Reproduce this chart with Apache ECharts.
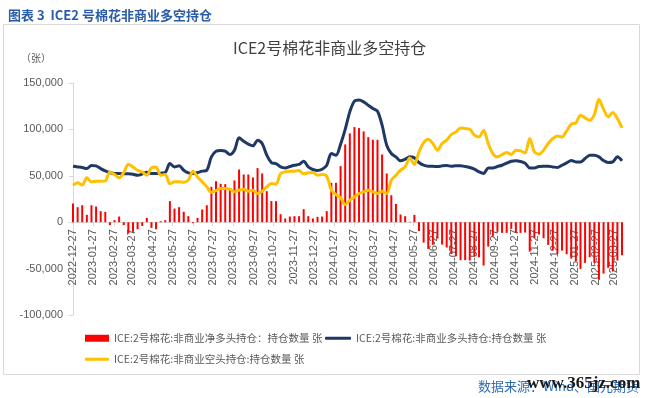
<!DOCTYPE html>
<html>
<head>
<meta charset="utf-8">
<title>ICE2号棉花非商业多空持仓</title>
<script src="https://cdn.jsdelivr.net/npm/echarts@6.0.0/dist/echarts.min.js"></script>
<style>
  html, body { margin: 0; padding: 0; background: #fff; }
  #chart { width: 649px; height: 398px; }
</style>
</head>
<body>
<div id="chart"></div>
<script>
// 周度数据，起始 2022-12-27，每 7 天一个点（单位：张）
var startDate = '2022-12-27';
var weekStep = 7;

var netLong = [
  20100, 16200, 18300, 7900, 18300, 16900, 11900, 11200, -3200, 2200,
  6100, -3200, -12200, -10400, -7600, -4000, 4700, -6100, -7600, 1100,
  2200, 22700, 14700, 16200, 11200, 6500, -1000, 4700, 13700, 18300,
  38100, 44200, 41400, 41000, 34900, 45000, 56800, 51400, 51400, 48200,
  58300, 52500, 33500, 22700, 22700, 8600, 4000, 6100, 6500, 6500,
  14000, 6500, 4000, 5800, 6100, 11900, 42400, 42400, 60400, 83800,
  95700, 102500, 101400, 97800, 91700, 88800, 88800, 73000, 52500, 29100,
  19800, 8300, 6500, 500, 7900, -9500, -22000, -28800, -24300, -17600,
  -24100, -27300, -34300, -36600, -40900, -40900, -41300, -36700, -37800, -46700,
  -26300, -15500, -10400, -11500, -11500, -7200, -11500, -11500, -11100, -31700,
  -17300, -13300, -17300, -24500, -30600, -34100, -30500, -34500, -39200, -42000,
  -50300, -43800, -37700, -43800, -62100, -55400, -49200, -53200, -41300, -35500
];

var longPos = [
  60300, 59600, 58900, 57800, 61100, 60700, 57800, 55300, 53500, 52400,
  52400, 52100, 52100, 51700, 50600, 51900, 53900, 52400, 52400, 52800,
  53500, 63200, 59600, 60700, 56000, 53200, 52400, 53500, 55000, 56000,
  70400, 76500, 77200, 76500, 72900, 77600, 90900, 87300, 84100, 82300,
  88400, 84800, 72200, 64300, 63200, 59600, 58500, 60000, 61400, 62200,
  65700, 59600, 56800, 55700, 57100, 61400, 74000, 72200, 84000, 100000,
  118900, 130400, 131800, 129700, 126100, 122500, 119600, 104500, 83000, 74000,
  70400, 66100, 67900, 70400, 69300, 64300, 61400, 60300, 60300, 60000,
  60700, 61100, 60300, 60700, 60700, 60000, 58900, 57100, 54200, 52400,
  58500, 58500, 60000, 61400, 63600, 65700, 66100, 65400, 63600, 58500,
  58500, 60000, 60300, 60300, 59600, 58900, 61400, 63900, 66400, 65000,
  65000, 68600, 72200, 72200, 70400, 66400, 64300, 65000, 70400, 66100
];

var shortPos = [
  39900, 42400, 40000, 47800, 43500, 44200, 44200, 44500, 54200, 51400,
  47800, 53500, 62500, 59600, 56000, 54200, 50600, 58500, 59600, 50600,
  51400, 41300, 43500, 43500, 43000, 45300, 55000, 48800, 43500, 38100,
  32000, 34100, 36300, 36300, 35600, 32700, 34500, 35600, 33400, 34500,
  30900, 33400, 38100, 41700, 41000, 52400, 54200, 55000, 55000, 55700,
  52100, 53200, 53500, 50600, 51400, 49600, 34500, 29800, 26200, 19000,
  23700, 27300, 30900, 32700, 34500, 32700, 30900, 33400, 30900, 45300,
  50600, 56000, 59600, 69300, 62200, 75800, 85800, 89400, 84800, 77600,
  84800, 88400, 94500, 97300, 101600, 100900, 100200, 93800, 91900, 99100,
  84800, 74000, 70400, 72900, 75100, 72900, 77600, 76900, 74700, 90200,
  75800, 73300, 77600, 84800, 90200, 93000, 91900, 98400, 105600, 107000,
  115300, 112400, 109900, 116000, 132500, 121800, 113500, 118200, 111700, 101600
];

var tickLabels = [
  '2022-12-27', '2023-01-27', '2023-02-27', '2023-03-27', '2023-04-27', '2023-05-27',
  '2023-06-27', '2023-07-27', '2023-08-27', '2023-09-27', '2023-10-27', '2023-11-27',
  '2023-12-27', '2024-01-27', '2024-02-27', '2024-03-27', '2024-04-27', '2024-05-27',
  '2024-06-27', '2024-07-27', '2024-08-27', '2024-09-27', '2024-10-27', '2024-11-27',
  '2024-12-27', '2025-01-27', '2025-02-27', '2025-03-27'
];

var seriesNames = [
  'ICE:2号棉花:非商业净多头持仓：持仓数量 张',
  'ICE:2号棉花:非商业多头持仓:持仓数量 张',
  'ICE:2号棉花:非商业空头持仓:持仓数量 张'
];

// 按日建类目轴，周度数据放到对应日期上
function addDays(s, n) {
  var d = new Date(s + 'T00:00:00Z');
  d.setUTCDate(d.getUTCDate() + n);
  return d.toISOString().slice(0, 10);
}
var dayCount = (netLong.length - 1) * weekStep + 1;
var days = [];
for (var i = 0; i < dayCount; i++) days.push(addDays(startDate, i));

function spread(values) {
  var out = [];
  for (var i = 0; i < dayCount; i++) out.push(null);
  for (var k = 0; k < values.length; k++) out[k * weekStep] = values[k];
  return out;
}

var tickSet = {};
tickLabels.forEach(function (t) { tickSet[t] = true; });
var showTick = function (idx, val) { return !!tickSet[val]; };

var chart = echarts.init(document.getElementById('chart'));

var axisGray = '#d9d9d9';
var textGray = '#595959';
var cjk = '"Noto Sans CJK SC", sans-serif';
var latin = '"Liberation Sans", "Noto Sans CJK SC", sans-serif';

var yMin = -100000, yMax = 150000;
var gridTop = 83, gridBottom = 83, chartH = 398;
// x 轴放在 0 值处（标签跟着轴走）
var plotH = chartH - gridTop - gridBottom;
var zeroOffset = -plotH * (0 - yMin) / (yMax - yMin);

var legendText = { color: textGray, fontSize: 10.5, fontFamily: cjk };

var option = {
  animation: false,
  backgroundColor: '#fff',
  title: [
    {
      text: '图表 3  ICE2 号棉花非商业多空持仓',
      left: 3, top: 4,
      textStyle: { color: '#2a5ca8', fontSize: 13, fontWeight: 'bold', fontFamily: cjk }
    },
    {
      text: 'ICE2号棉花非商业多空持仓',
      left: 228, top: 35,
      textStyle: { color: '#404040', fontSize: 16, fontWeight: 'normal', fontFamily: cjk }
    }
  ],
  graphic: [
    {
      type: 'rect', silent: true, z: -10,
      shape: { x: 3.5, y: 24.5, width: 636, height: 350 },
      style: { fill: 'none', stroke: axisGray, lineWidth: 1 }
    },
    {
      type: 'text', left: 478, top: 380,
      style: { text: '数据来源：Wind、国元期货', fill: '#2e6db4', fontSize: 13, fontFamily: cjk }
    },
    {
      type: 'text', left: 527, top: 375, z: 100,
      style: { text: 'www.365jz.com', fill: '#1a1a1a', fontSize: 17, fontWeight: 'bold', fontFamily: '"Liberation Serif", serif' }
    }
  ],
  legend: [
    {
      data: [seriesNames[0]], left: 85, top: 333, padding: 0, icon: 'rect',
      itemWidth: 24, itemHeight: 7, textStyle: legendText
    },
    {
      data: [seriesNames[1]], left: 325, top: 333, padding: 0, icon: 'roundRect',
      itemWidth: 26, itemHeight: 3, textStyle: legendText
    },
    {
      data: [seriesNames[2]], left: 85, top: 354, padding: 0, icon: 'roundRect',
      itemWidth: 24, itemHeight: 3, textStyle: legendText
    }
  ],
  grid: { left: 73, right: 27, top: gridTop, bottom: gridBottom },
  xAxis: {
    type: 'category',
    data: days,
    boundaryGap: false,
    position: 'bottom',
    offset: zeroOffset,
    axisLine: { onZero: false, lineStyle: { color: axisGray } },
    axisTick: { show: true, interval: showTick, length: 4, lineStyle: { color: axisGray } },
    axisLabel: {
      interval: showTick, rotate: 90, margin: 7,
      color: textGray, fontSize: 11, fontFamily: latin
    },
    splitLine: { show: false }
  },
  yAxis: {
    type: 'value',
    min: yMin, max: yMax, interval: 50000,
    name: '（张）',
    nameLocation: 'end',
    nameGap: 20,
    nameTextStyle: { color: textGray, fontSize: 10, fontFamily: cjk, align: 'right', padding: [0, 22, 0, 0] },
    axisLine: { show: true, lineStyle: { color: axisGray } },
    axisTick: { show: true, length: 4, lineStyle: { color: axisGray } },
    axisLabel: {
      margin: 10, color: textGray, fontSize: 11, fontFamily: latin,
      formatter: function (v) { return v.toLocaleString('en-US'); }
    },
    splitLine: { show: false }
  },
  series: [
    {
      name: seriesNames[0],
      type: 'bar',
      data: spread(netLong),
      barWidth: 2,
      clip: false,
      itemStyle: { color: '#ff0000' }
    },
    {
      name: seriesNames[1],
      type: 'line',
      data: spread(longPos),
      connectNulls: true,
      showSymbol: false,
      smooth: 0.3,
      lineStyle: { color: '#1f3864', width: 3 },
      itemStyle: { color: '#1f3864' }
    },
    {
      name: seriesNames[2],
      type: 'line',
      data: spread(shortPos),
      connectNulls: true,
      showSymbol: false,
      smooth: 0.3,
      lineStyle: { color: '#ffc000', width: 3 },
      itemStyle: { color: '#ffc000' }
    }
  ]
};

chart.setOption(option);
window.onresize = chart.resize;
</script>
</body>
</html>
